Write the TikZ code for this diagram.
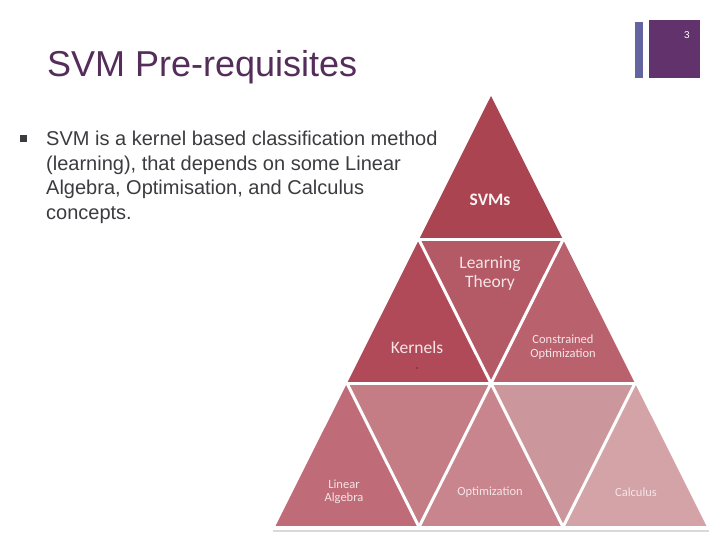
\documentclass[tikz,border=0pt]{standalone}
\usepackage{fontspec}
\setmainfont{Liberation Sans}
\newfontfamily\calfont{Carlito}
\usetikzlibrary{calc}
\definecolor{titlepurple}{RGB}{85,45,90}
\definecolor{bodygray}{RGB}{60,60,64}
\definecolor{boxpurple}{RGB}{98,50,108}
\definecolor{barblue}{RGB}{100,100,160}
\definecolor{triA}{RGB}{170,68,80}
\definecolor{triB}{RGB}{176,74,88}
\definecolor{triC}{RGB}{180,90,102}
\definecolor{triD}{RGB}{185,98,110}
\definecolor{triE}{RGB}{192,108,120}
\definecolor{triF}{RGB}{196,124,133}
\definecolor{triG}{RGB}{200,133,141}
\definecolor{triH}{RGB}{204,151,156}
\definecolor{triI}{RGB}{212,163,168}
\definecolor{labelpink}{RGB}{246,228,231}
\def\tri(#1)(#2)(#3)#4{\fill[#4] (#1) -- (#2) -- (#3) -- cycle;}

\begin{document}
\begin{tikzpicture}[x=1pt, y=-1pt,
	gap/.style={draw=white, line width=3pt},
	lbl/.style={text=labelpink, font=\calfont, align=center, inner sep=0pt}]
		%%%%% START %%%%%
		\useasboundingbox[fill=white] (0, 0) rectangle (720, 540);
		
		% slide corner
		\fill[barblue] (635, 22) rectangle (643, 78);
		\fill[boxpurple] (649, 20) rectangle (700, 78);
		\node[text=white, font=\fontsize{10}{12}\selectfont, anchor=base] (pageno) at (687, 39) {3};
		
		% title and bullet
		\node[text=titlepurple, font=\fontsize{36}{43}\selectfont, anchor=base west, inner sep=0pt] (title) at (47, 77) {SVM Pre-requisites};
		\fill[bodygray] (20, 135) rectangle (27, 142);
		\node[text=bodygray, font=\fontsize{20}{24.5}\selectfont, anchor=north west, inner sep=0pt, align=left] (body) at (46, 131)
			{SVM is a kernel based classification method\\(learning), that depends on some Linear\\Algebra, Optimisation, and Calculus\\concepts.};
		
		% pyramid grid
		\foreach \i in {0,...,3}{
			\foreach \j in {0,...,\i}{
				\coordinate (p\i\j) at ({491-72*\i+144*\j}, {96+143.67*\i});
			}
		}
		
		\draw[black!15, line width=1.5pt] ($(p30)+(-2,4)$) -- ($(p33)+(2,4)$);
		
		\tri(p00)(p10)(p11){triA}
		\tri(p10)(p20)(p21){triB}
		\tri(p10)(p11)(p21){triC}
		\tri(p11)(p21)(p22){triD}
		\tri(p20)(p30)(p31){triE}
		\tri(p20)(p21)(p31){triF}
		\tri(p21)(p31)(p32){triG}
		\tri(p21)(p22)(p32){triH}
		\tri(p22)(p32)(p33){triI}
		
		\draw[gap] (p10) -- (p11);
		\draw[gap] (p20) -- (p22);
		\draw[gap] (p30) -- (p33);
		\draw[gap] (p11) -- (p31);
		\draw[gap] (p22) -- (p32);
		\draw[gap] (p10) -- (p32);
		\draw[gap] (p20) -- (p31);
		
		% labels
		\node[lbl, text=white!94!triA, font=\calfont\bfseries\fontsize{17.5}{20}\selectfont] (svms) at (490, 200) {SVMs};
		\node[lbl, font=\calfont\fontsize{17.5}{19}\selectfont] (learn) at (490, 273) {Learning\\Theory};
		\node[lbl, font=\calfont\fontsize{17.5}{20}\selectfont] (kern) at (417, 347) {Kernels};
		\fill[triA!60!black] (417, 368) circle (0.9);
		\node[lbl, font=\calfont\fontsize{12.5}{13.5}\selectfont] (constr) at (563, 347) {Constrained\\Optimization};
		\node[lbl, font=\calfont\fontsize{12.5}{12.5}\selectfont] (linalg) at (344, 492) {Linear\\Algebra};
		\node[lbl, font=\calfont\fontsize{12.5}{14}\selectfont] (optim) at (490, 492) {Optimization};
		\node[lbl, font=\calfont\fontsize{12.5}{14}\selectfont] (calc) at (636, 492) {Calculus};
		%%%%% END %%%%%
	\end{tikzpicture}
\end{document}
